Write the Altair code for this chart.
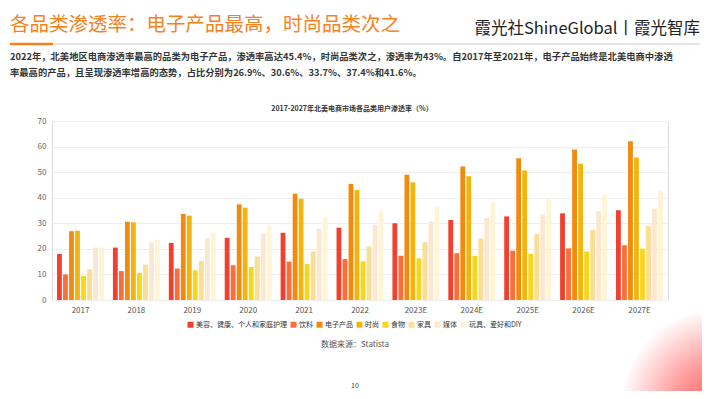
import altair as alt
import pandas as pd

years = ["2017", "2018", "2019", "2020", "2021", "2022", "2023E", "2024E", "2025E", "2026E", "2027E"]
cats = ["美容、健康、个人和家庭护理", "饮料", "电子产品", "时尚", "食物", "家具", "媒体", "玩具、爱好和DIY"]
colors = ["#F2402F", "#FB6E3C", "#F28A0C", "#F2B50F", "#F8D61E", "#FDDD94", "#FDE7CF", "#FFF4D6"]

beauty = [18.0, 20.5, 22.3, 24.3, 26.3, 28.3, 30.0, 31.3, 32.7, 33.9, 35.1]
beverage = [10.0, 11.3, 12.3, 13.6, 15.0, 16.0, 17.3, 18.3, 19.3, 20.2, 21.4]
electronics = [26.9, 30.6, 33.7, 37.4, 41.6, 45.4, 49.0, 52.2, 55.4, 58.9, 62.1]
fashion = [27.1, 30.4, 33.0, 36.1, 39.6, 43.0, 46.0, 48.4, 50.6, 53.3, 55.7]
food = [9.4, 10.6, 11.6, 12.9, 14.1, 15.1, 16.3, 17.3, 18.1, 19.0, 20.1]
furniture = [12.0, 13.8, 15.3, 17.0, 19.0, 21.0, 22.6, 24.1, 25.8, 27.5, 28.9]
media = [20.5, 22.6, 24.3, 26.0, 27.9, 29.3, 30.8, 32.1, 33.5, 34.7, 35.7]
toys = [20.5, 23.6, 26.4, 29.1, 32.2, 34.7, 36.6, 38.2, 39.8, 41.2, 42.6]

series = [beauty, beverage, electronics, fashion, food, furniture, media, toys]

page_title = "各品类渗透率：电子产品最高，时尚品类次之"
brand = "霞光社ShineGlobal丨霞光智库"
para1 = "2022年，北美地区电商渗透率最高的品类为电子产品，渗透率高达45.4%，时尚品类次之，渗透率为43%。自2017年至2021年，电子产品始终是北美电商中渗透"
para2 = "率最高的产品，且呈现渗透率增高的态势，占比分别为26.9%、30.6%、33.7%、37.4%和41.6%。"
chart_title = "2017-2027年北美电商市场各品类用户渗透率（%）"
source = "数据来源：Statista"
page_no = "10"

FONT = "Noto Sans CJK SC"

rows = []
for c, vals in zip(cats, series):
    for y, v in zip(years, vals):
        rows.append({"year": y, "cat": c, "value": v})
df = pd.DataFrame(rows)

bars = alt.Chart(df).mark_bar().encode(
    x=alt.X("year:N", sort=years, title=None,
            scale=alt.Scale(paddingInner=0.16, paddingOuter=0.09),
            axis=alt.Axis(labelAngle=0, ticks=False, domain=False, labelPadding=6,
                          labelFontSize=8, labelColor="#555555", labelFont=FONT)),
    xOffset=alt.XOffset("cat:N", sort=cats, scale=alt.Scale(paddingInner=0.2)),
    y=alt.Y("value:Q", title=None,
            scale=alt.Scale(domain=[0, 70], nice=False),
            axis=alt.Axis(values=list(range(0, 71, 10)), ticks=False, domain=False,
                          labelPadding=6, labelFontSize=8, labelColor="#666666",
                          labelFont=FONT, gridColor="#EEEEEE", gridWidth=1)),
    color=alt.Color("cat:N", sort=cats, scale=alt.Scale(domain=cats, range=colors),
                    legend=alt.Legend(title=None, orient="none", legendX=135, legendY=200,
                                      direction="horizontal", columns=8, symbolType="square",
                                      symbolSize=36, symbolStrokeWidth=0, labelFontSize=7,
                                      labelColor="#333333", labelFont=FONT, columnPadding=3,
                                      labelOffset=2)),
)


def txt(s, x, y, size, color, align="left", weight="normal"):
    return alt.Chart(pd.DataFrame({"t": [s]})).mark_text(
        align=align, baseline="middle", fontSize=size, color=color, font=FONT, fontWeight=weight
    ).encode(x=alt.value(x), y=alt.value(y), text="t:N")


blob = alt.Chart(pd.DataFrame({"k": [1]})).mark_circle(
    size=38000, opacity=1,
    color=alt.Gradient(gradient="radial",
                       stops=[alt.GradientStop(color="#FF5A5A", offset=0),
                              alt.GradientStop(color="#FF9C9C", offset=0.45),
                              alt.GradientStop(color="#FFFFFF", offset=1)],
                       x1=0.5, y1=0.5, r1=0, x2=0.5, y2=0.5, r2=0.5),
).encode(x=alt.value(666), y=alt.value(285))

gray_line = alt.Chart(pd.DataFrame({"k": [1]})).mark_rule(color="#DDDDDD", strokeWidth=1.5).encode(
    x=alt.value(-42), x2=alt.value(648), y=alt.value(-77))
orange_line = alt.Chart(pd.DataFrame({"k": [1]})).mark_rule(color="#F5821F", strokeWidth=2.5).encode(
    x=alt.value(-42), x2=alt.value(1), y=alt.value(-77))

chart = alt.layer(
    blob,
    gray_line,
    orange_line,
    txt(page_title, -42, -96, 19.5, "#F5821F"),
    txt(brand, 648, -92, 16.5, "#222222", align="right"),
    txt(para1, -42, -64, 9.3, "#333333", weight="bold"),
    txt(para2, -42, -48, 9.3, "#333333", weight="bold"),
    txt(chart_title, 300, -12, 7, "#333333", align="center", weight="bold"),
    bars,
    txt(source, 303, 224, 8, "#555555", align="center"),
    txt(page_no, 303, 265, 7, "#333333", align="center"),
).properties(
    width=616, height=179,
    padding={"left": 44, "top": 113, "right": 34, "bottom": 91},
    autosize=alt.AutoSizeParams(type="none"),
).configure_view(stroke=None).configure(background="white")

chart.save("out.html", embed_options={"renderer": "svg", "actions": False})
